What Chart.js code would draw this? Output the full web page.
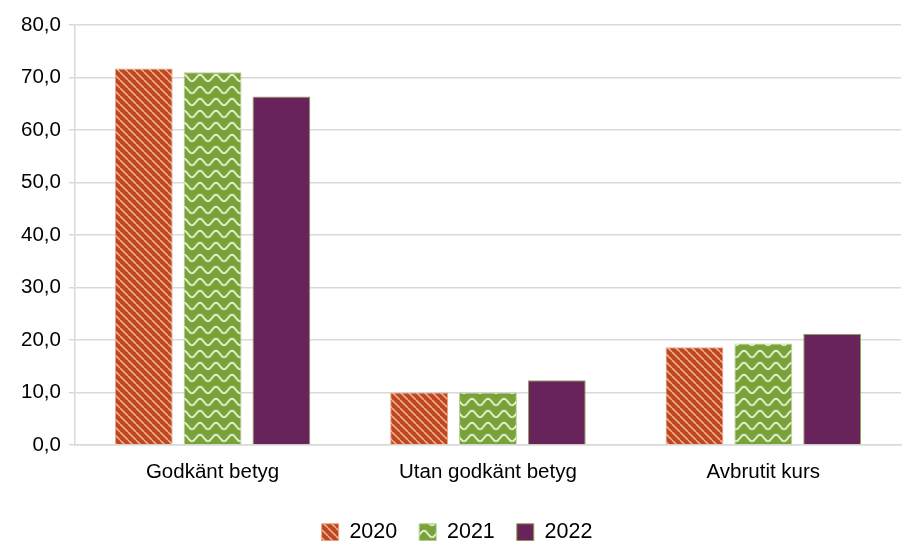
<!DOCTYPE html>
<html><head><meta charset="utf-8">
<script src="https://cdn.jsdelivr.net/npm/chart.js@4"></script>
<style>html,body{margin:0;padding:0;background:#fff}#w{width:913px;height:541px}</style>
</head><body><div id="w"><canvas id="c"></canvas></div>
<script>
const categories = ["Godkänt betyg", "Utan godkänt betyg", "Avbrutit kurs"];
const seriesLabels = ["2020", "2021", "2022"];
const values2020 = [71.7, 10.0, 18.6];
const values2021 = [71.0, 10.0, 19.3];
const values2022 = [66.4, 12.3, 21.2];
const yTicks = [0, 10, 20, 30, 40, 50, 60, 70, 80];

function stripePattern() {
  const s = 8, c = document.createElement('canvas');
  c.width = s; c.height = s;
  const x = c.getContext('2d');
  x.fillStyle = '#C0461C'; x.fillRect(0, 0, s, s);
  x.strokeStyle = 'rgba(248,205,185,0.75)'; x.lineWidth = 1.6;
  x.beginPath();
  for (let k = -s; k <= s; k += s) { x.moveTo(k, 0); x.lineTo(k + s, s); }
  x.stroke();
  return x.createPattern(c, 'repeat');
}
function wavePattern() {
  const w = 16, h = 12, c = document.createElement('canvas');
  c.width = w; c.height = h;
  const x = c.getContext('2d');
  x.fillStyle = '#7AA23A'; x.fillRect(0, 0, w, h);
  x.strokeStyle = 'rgba(235,245,215,0.9)'; x.lineWidth = 2;
  x.beginPath();
  for (let i = 0; i <= w; i++) {
    const yy = 6 + 3.3 * Math.cos(i / w * Math.PI * 2);
    if (i === 0) x.moveTo(i, yy); else x.lineTo(i, yy);
  }
  x.stroke();
  return x.createPattern(c, 'repeat');
}
const p20 = stripePattern(), p21 = wavePattern();
const FONT = 'Liberation Sans, Arial';

new Chart(document.getElementById('c'), {
  type: 'bar',
  data: {
    labels: categories,
    datasets: [
      { label: seriesLabels[0], data: values2020, backgroundColor: p20, borderColor: '#E8A58A', borderWidth: 1 },
      { label: seriesLabels[1], data: values2021, backgroundColor: p21, borderColor: '#B8D08E', borderWidth: 1 },
      { label: seriesLabels[2], data: values2022, backgroundColor: '#68245A', borderColor: '#8AA84A', borderWidth: 1 }
    ]
  },
  options: {
    responsive: true, maintainAspectRatio: false, animation: false,
    devicePixelRatio: 1,
    layout: { padding: { top: 25, right: 12, left: 13, bottom: -12 } },
    datasets: { bar: { categoryPercentage: 0.75, barPercentage: 0.84 } },
    plugins: {
      legend: {
        position: 'bottom',
        labels: { color: '#000', font: { family: FONT, size: 21.5 }, boxWidth: 17, boxHeight: 17, padding: 22 }
      },
      tooltip: { enabled: false }
    },
    scales: {
      x: {
        grid: { display: false, drawTicks: false },
        border: { color: '#d9d9d9', width: 1.5 },
        ticks: { color: '#000', font: { family: FONT, size: 20.5 }, padding: 15 }
      },
      y: {
        min: 0, max: 80,
        afterBuildTicks: a => { a.ticks = yTicks.map(v => ({ value: v })); },
        grid: { color: '#d9d9d9', lineWidth: 1.5, tickLength: 6 },
        border: { color: '#d9d9d9', width: 1.5 },
        ticks: { color: '#000', font: { family: FONT, size: 20.5 }, padding: 8,
          callback: v => v.toFixed(1).replace('.', ',') }
      }
    }
  }
});
</script>
</body></html>
